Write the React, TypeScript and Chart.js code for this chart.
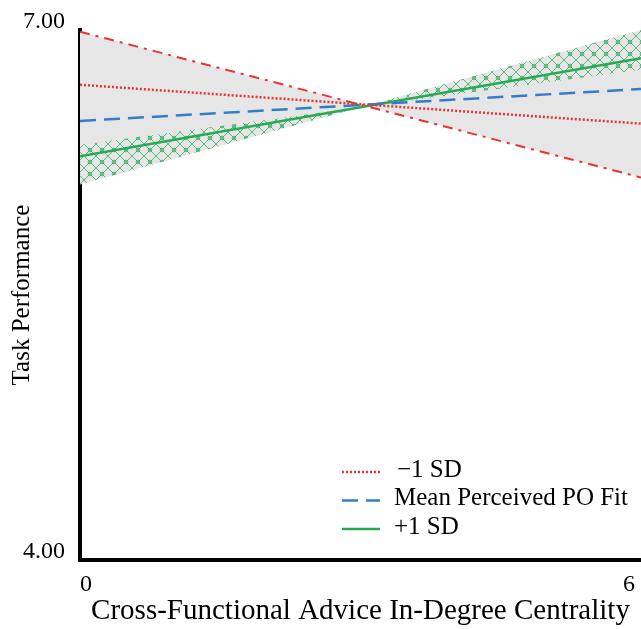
import React, { useEffect, useRef } from 'react';
import { Chart, registerables } from 'chart.js';

Chart.register(...registerables);

// ---- data ----
const xValues = [0, 6];
const minusSD = [6.69, 6.47];
const meanFit = [6.485, 6.666];
const plusSD = [6.285, 6.84];
const redBandEdge = [6.99, 6.165];
const greenBandOuter = [6.125, 7.0];
const greenBandInner = [6.35, 6.775];
const seriesNames = ['\u22121 SD', 'Mean Perceived PO Fit', '+1 SD'];
const yTickValues = [4, 7];
const xTickValues = [0, 6];
const xTitle = 'Cross-Functional Advice In-Degree Centrality';
const yTitle = 'Task Performance';

const FONT = '"Liberation Serif", "Times New Roman", serif';
const RED = 'rgb(232,52,52)';
const BLUE = 'rgb(52,125,200)';
const GREEN = 'rgb(40,170,85)';

export default function App() {
  const ref = useRef<HTMLCanvasElement>(null);

  useEffect(() => {
    document.body.style.margin = '0';
    const canvas = ref.current;
    if (!canvas) return;
    const ctx = canvas.getContext('2d')!;

    const S = 12;
    const pc = document.createElement('canvas');
    pc.width = S;
    pc.height = S;
    const p = pc.getContext('2d')!;
    p.strokeStyle = 'rgba(40,170,85,0.75)';
    p.lineWidth = 1;
    p.beginPath();
    p.moveTo(0, 0);
    p.lineTo(S, S);
    p.moveTo(S, 0);
    p.lineTo(0, S);
    p.stroke();
    p.beginPath();
    p.arc(S / 2, S / 2, 1.8, 0, Math.PI * 2);
    p.stroke();
    const pattern = ctx.createPattern(pc, 'repeat');

    const pts = (arr: number[]) => xValues.map((x, i) => ({ x, y: arr[i] }));

    const legendPlugin = {
      id: 'insideLegend',
      afterDraw(chart: any) {
        const c = chart.ctx;
        c.save();
        const rows = [0, 1, 2];
        rows.forEach((di, r) => {
          const ds = chart.data.datasets[di];
          const y = 472 + r * 28.5;
          c.beginPath();
          c.setLineDash(ds.borderDash || []);
          c.strokeStyle = ds.borderColor;
          c.lineWidth = ds.borderWidth;
          c.moveTo(342, y);
          c.lineTo(380, y);
          c.stroke();
          c.setLineDash([]);
          c.fillStyle = '#000';
          c.font = '25px ' + FONT;
          c.textBaseline = 'middle';
          c.textAlign = 'left';
          c.fillText(ds.label, r === 0 ? 397 : 394, y - 2);
        });
        c.restore();
      },
    };

    const chart = new Chart(ctx, {
      type: 'line',
      data: {
        datasets: [
          {
            label: seriesNames[0],
            data: pts(minusSD),
            borderColor: RED,
            borderWidth: 2.5,
            borderDash: [2, 2],
            pointRadius: 0,
            fill: false,
            order: 1,
          },
          {
            label: seriesNames[1],
            data: pts(meanFit),
            borderColor: BLUE,
            borderWidth: 2.5,
            borderDash: [16, 8],
            pointRadius: 0,
            fill: false,
            order: 2,
          },
          {
            label: seriesNames[2],
            data: pts(plusSD),
            borderColor: GREEN,
            borderWidth: 2.5,
            pointRadius: 0,
            fill: false,
            order: 3,
          },
          {
            label: 'band-red',
            data: pts(redBandEdge),
            borderColor: RED,
            borderWidth: 2,
            borderDash: [10, 6, 3, 6],
            backgroundColor: 'rgb(230,230,230)',
            pointRadius: 0,
            fill: { target: 4 },
            order: 10,
          },
          {
            label: 'band-outer',
            data: pts(greenBandOuter),
            borderWidth: 0,
            borderColor: 'rgba(0,0,0,0)',
            pointRadius: 0,
            fill: false,
            order: 8,
          },
          {
            label: 'band-green',
            data: pts(greenBandInner),
            borderWidth: 0,
            borderColor: 'rgba(0,0,0,0)',
            backgroundColor: pattern as any,
            pointRadius: 0,
            fill: { target: 4 },
            order: 9,
          },
        ],
      },
      options: {
        responsive: false,
        animation: false,
        devicePixelRatio: 1,
        layout: { padding: { top: 30, right: 0, left: 0, bottom: 0 } },
        plugins: {
          legend: { display: false },
          tooltip: { enabled: false },
        },
        scales: {
          x: {
            type: 'linear',
            min: 0,
            max: 6,
            grid: { display: false, drawTicks: false, tickLength: 0 },
            border: { display: true, color: '#000', width: 4 },
            afterBuildTicks: (s: any) => {
              s.ticks = xTickValues.map((v) => ({ value: v }));
            },
            afterFit: (s: any) => {
              s.height = 69;
              s.paddingLeft = 0;
              s.paddingRight = 0;
            },
            ticks: {
              align: 'inner',
              padding: 10,
              color: '#000',
              font: { family: FONT, size: 24 },
              callback: (v: any, i: number) => (i === xTickValues.length - 1 ? String(v) + ' ' : String(v)),
            },
            title: {
              display: true,
              text: xTitle,
              color: '#000',
              font: { family: FONT, size: 29 },
              padding: { top: 4, bottom: 0 },
            },
          },
          y: {
            type: 'linear',
            min: 4,
            max: 7,
            grid: { display: false, drawTicks: false, tickLength: 0 },
            border: { display: true, color: '#000', width: 4 },
            afterBuildTicks: (s: any) => {
              s.ticks = yTickValues.map((v) => ({ value: v }));
            },
            afterFit: (s: any) => {
              s.width = 80;
              s.paddingTop = 0;
              s.paddingBottom = 0;
            },
            ticks: {
              padding: 15,
              labelOffset: -8,
              color: '#000',
              font: { family: FONT, size: 24 },
              callback: (v: any) => Number(v).toFixed(2),
            },
            title: {
              display: true,
              text: yTitle,
              color: '#000',
              font: { family: FONT, size: 25 },
              padding: { top: 7, bottom: 4 },
            },
          },
        },
      },
      plugins: [legendPlugin],
    } as any);

    return () => chart.destroy();
  }, []);

  return (
    <div style={{ width: 641, height: 629 }}>
      <canvas ref={ref} width={641} height={629} style={{ display: 'block' }} />
    </div>
  );
}
